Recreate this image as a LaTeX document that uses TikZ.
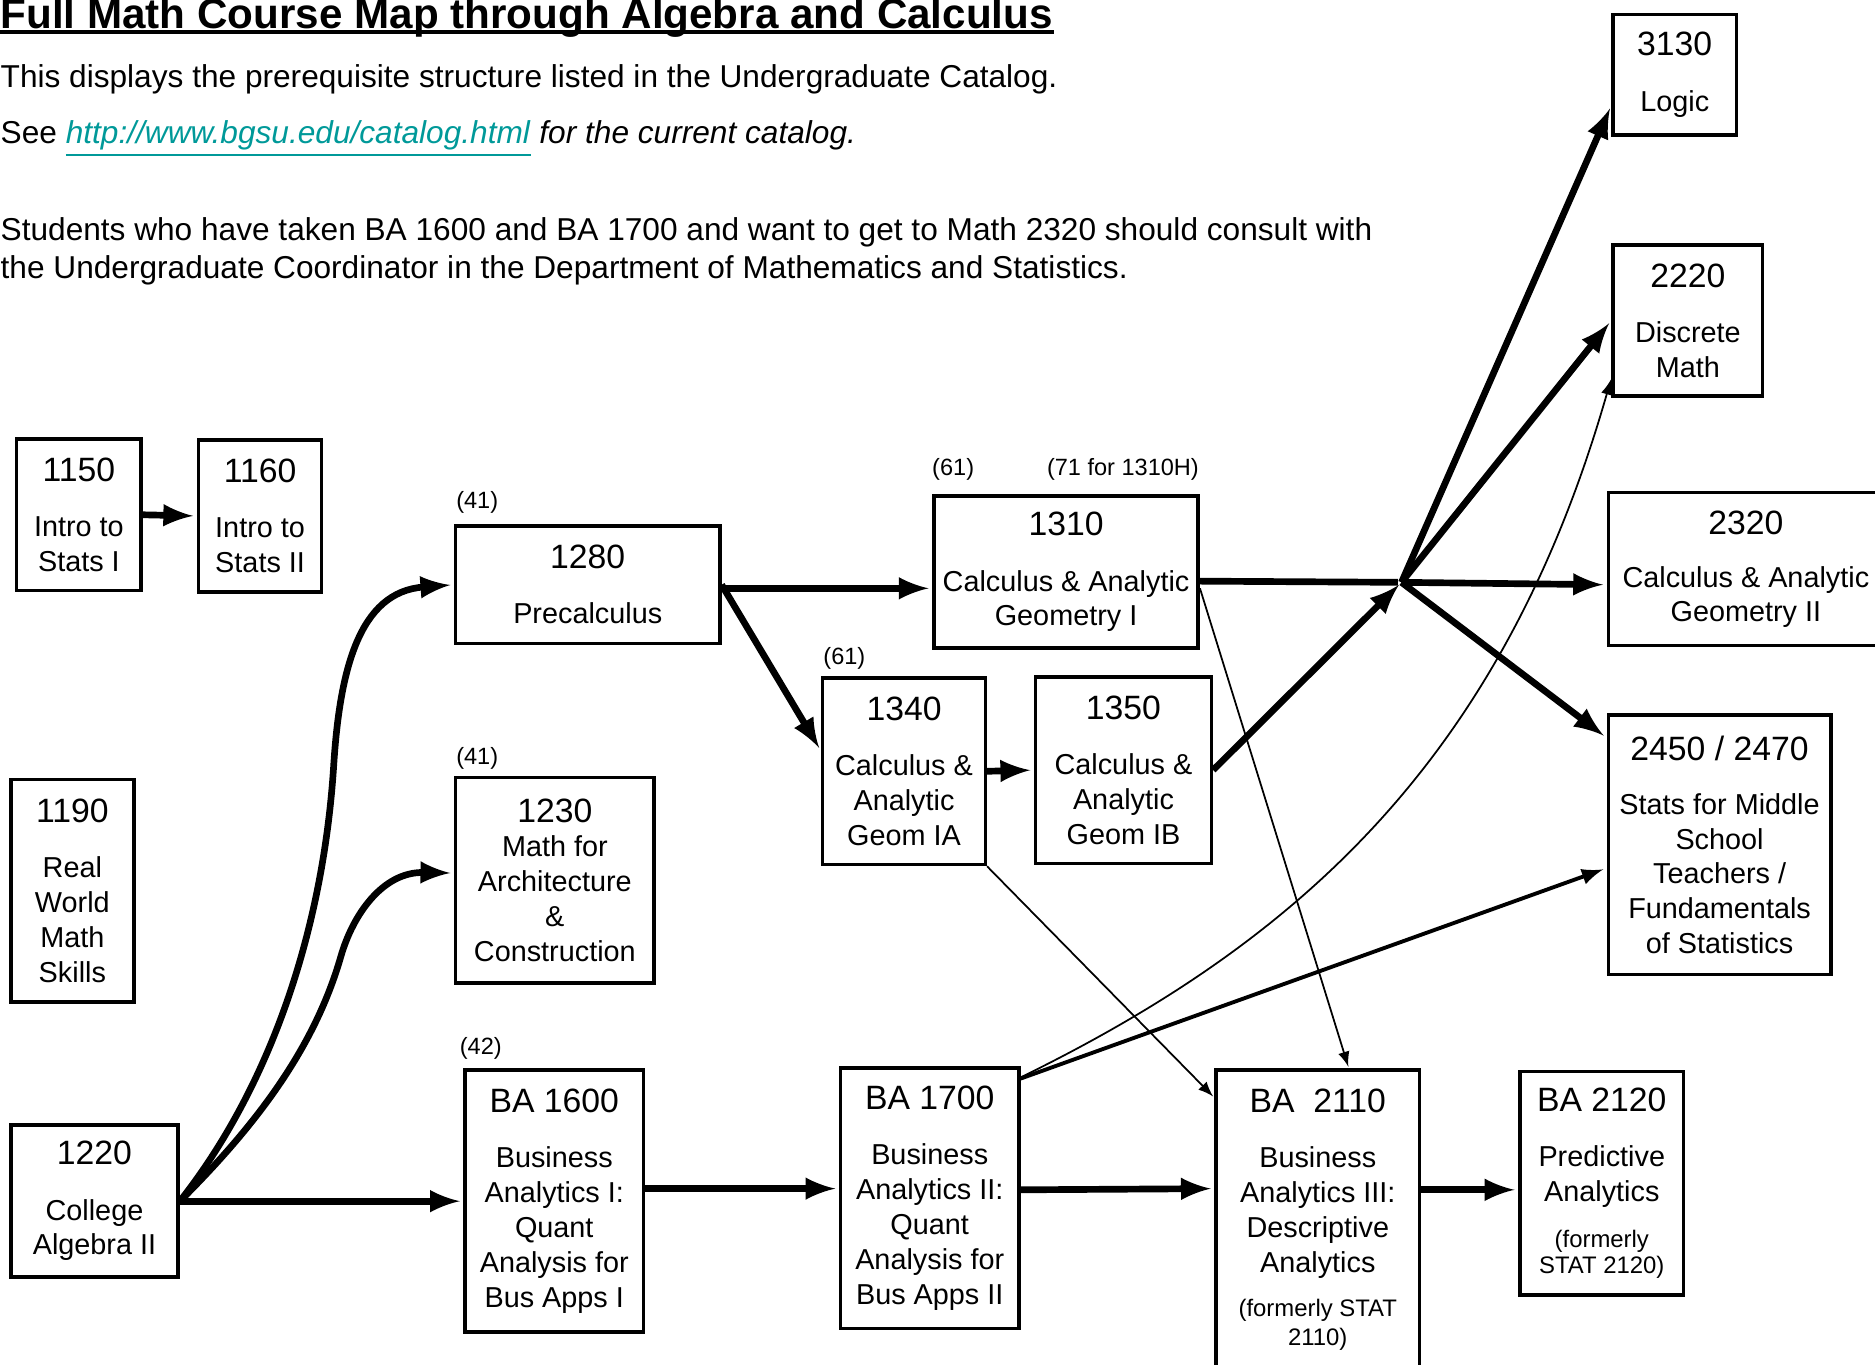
\documentclass[tikz,border=0pt]{standalone}
\usepackage{fontspec}
\setmainfont{Liberation Sans}
\usepackage{tikz}
\usetikzlibrary{calc}
\usetikzlibrary{positioning}
\usetikzlibrary{arrows}
\newcommand{\px}{0.11958mm}
\newcommand{\cnum}[1]{{\fontsize{9.6}{11}\selectfont #1}}
\newcommand{\csmall}{\fontsize{6.8}{8}\selectfont}
\definecolor{linkteal}{RGB}{0,153,153}

\begin{document}
\begin{tikzpicture}[x=0.11958mm,y=-0.11958mm,>=latex,
  course/.style={draw,line width=1pt,align=center,inner sep=0pt,font=\fontsize{8.2}{9.9}\selectfont},
  boxsize/.style 2 args={minimum width=#1*\px,minimum height=#2*\px},
  note/.style={inner sep=0pt,anchor=base west,font=\fontsize{6.7}{8}\selectfont},
  body/.style={inner sep=0pt,anchor=base west,font=\fontsize{9}{10.8}\selectfont},
  heavy/.style={line width=1.9pt,shorten >=1pt},
  medium/.style={line width=1.1pt,shorten >=1pt},
  light/.style={line width=0.5pt,shorten >=0.5pt}]

\useasboundingbox (0,0) rectangle (1568,1141);

\node [body,font=\fontsize{12}{14}\selectfont\bfseries] (title) at (0,23.5) {Full Math Course Map through Algebra and Calculus};
\draw [line width=1.2pt] ([yshift=-1.1pt]title.base west) -- ([yshift=-1.1pt]title.base east);
\node [body] (intro) at (0,73) {This displays the prerequisite structure listed in the Undergraduate Catalog.};
\node [body] (see) at (0,120) {See \textcolor{linkteal}{\underline{\textit{http://www.bgsu.edu/catalog.html}}} \textit{for the current catalog.}};
\node [body] (advice1) at (0,201) {Students who have taken BA 1600 and BA 1700 and want to get to Math 2320 should consult with};
\node [body] (advice2) at (0,233) {the Undergraduate Coordinator in the Department of Mathematics and Statistics.};

\node [course,boxsize={104}{127}] (c1150) at (66,430.5) {\cnum{1150}\\[5.8pt]Intro to\\Stats I};
\node [course,boxsize={103}{127}] (c1160) at (217.5,431.5) {\cnum{1160}\\[5.8pt]Intro to\\Stats II};
\node [course,boxsize={103}{186}] (c1190) at (60.5,745) {\cnum{1190}\\[5.8pt]Real\\World\\Math\\Skills};
\node [course,boxsize={140}{127}] (c1220) at (79,1004.5) {\cnum{1220}\\[5.8pt]College\\Algebra II};
\node [course,boxsize={221}{98}] (c1280) at (491.5,489) {\cnum{1280}\\[5.8pt]Precalculus};
\node [course,boxsize={166}{172}] (c1230) at (464,736) {\cnum{1230}\\Math for\\Architecture\\\&\\Construction};
\node [course,boxsize={149}{219}] (ba1600) at (463.5,1004.5) {\cnum{BA 1600}\\[5.8pt]Business\\Analytics I:\\Quant\\Analysis for\\Bus Apps I};
\node [course,boxsize={149}{218}] (ba1700) at (777.5,1002) {\cnum{BA 1700}\\[5.8pt]Business\\Analytics II:\\Quant\\Analysis for\\Bus Apps II};
\node [course,boxsize={170}{250}] (ba2110) at (1102,1020) {\cnum{BA\ \ 2110}\\[5.8pt]Business\\Analytics III:\\Descriptive\\Analytics\\[2.8pt]{\csmall (formerly STAT}\\[-1.8pt]{\csmall 2110)}};
\node [course,boxsize={137}{187}] (ba2120) at (1339.5,989.5) {\cnum{BA 2120}\\[5.8pt]Predictive\\Analytics\\[3.1pt]{\csmall (formerly}\\[-2.4pt]{\csmall STAT 2120)}};
\node [course,boxsize={221}{127}] (c1310) at (891.5,478.5) {\cnum{1310}\\[5.8pt]Calculus \& Analytic\\Geometry I};
\node [course,boxsize={136}{156}] (c1340) at (756,645) {\cnum{1340}\\[5.8pt]Calculus \&\\Analytic\\Geom IA};
\node [course,boxsize={147}{156}] (c1350) at (939.5,644) {\cnum{1350}\\[5.8pt]Calculus \&\\Analytic\\Geom IB};
\node [course,boxsize={103}{101}] (c3130) at (1400.5,62.5) {\cnum{3130}\\[6.1pt]Logic};
\node [course,boxsize={125}{126}] (c2220) at (1411.5,268) {\cnum{2220}\\[5.8pt]Discrete\\Math};
\node [course,boxsize={230}{128}] (c2320) at (1460,476) {\cnum{2320}\\[5.2pt]Calculus \& Analytic\\Geometry II};
\node [course,boxsize={186}{217}] (c2450) at (1438,706.5) {\cnum{2450 / 2470}\\[5.5pt]Stats for Middle\\School\\Teachers /\\Fundamentals\\of Statistics};

\node [note] (l1280) at (381,425) {(41)};
\node [note] (l1230) at (381,639) {(41)};
\node [note] (l1600) at (384,882) {(42)};
\node [note] (l1310) at (779,398) {(61)};
\node [note] (l1310h) at (875,398) {(71 for 1310H)};
\node [note] (l1340) at (688,556) {(61)};

\coordinate (hub) at (1172,487);

\draw [heavy,->] (c1150.east) -- (c1160.west);
\draw [heavy,->] (c1220.east) .. controls (225,910) and (270,780) .. (279,641) .. controls (284,561) and (300,495) .. (c1280.west);
\draw [heavy,->] (c1220.east) .. controls (210,945) and (262,880) .. (285,800) .. controls (295,765) and (320,729) .. ([yshift=2pt]c1230.west);
\draw [heavy,->] (c1220.east) -- (ba1600.west);
\draw [heavy,->] (ba1600.east |- 0,994) -- (ba1700.west |- 0,994);
\draw [heavy,->] (ba1700.east |- 0,995) -- (ba2110.west |- 0,994);
\draw [heavy,->] (ba2110.east |- 0,995) -- (ba2120.west |- 0,995);
\draw [heavy,->] (c1280.east |- 0,492) -- (c1310.west |- 0,492);
\draw [heavy,->] (c1280.east) -- (c1340.west |- 0,628);
\draw [heavy,->] (c1340.east) -- (c1350.west);
\draw [heavy,->] (c1350.east) -- (hub);
\draw [heavy] (c1310.east |- 0,486) -- (hub);
\draw [heavy,->] (hub) -- (c2320.west |- 0,489);
\draw [heavy,->] (hub) -- (c3130.west |- 0,88);
\draw [heavy,->] (hub) -- (c2220.west);
\draw [heavy,->] (hub) -- (c2450.west |- 0,617);
\draw [light,->] (c1310.east |- 0,492) -- (1128,0 |- ba2110.north);
\draw [light,->] (c1340.south east) -- (ba2110.west |- 0,918);
\draw [light,->] (ba1700.east |- 0,901) .. controls (1080,790) and (1255,640) .. (c2220.west |- 0,316);
\draw [medium,->] (ba1700.east |- 0,902) -- (c2450.west |- 0,726);

\end{tikzpicture}
\end{document}
